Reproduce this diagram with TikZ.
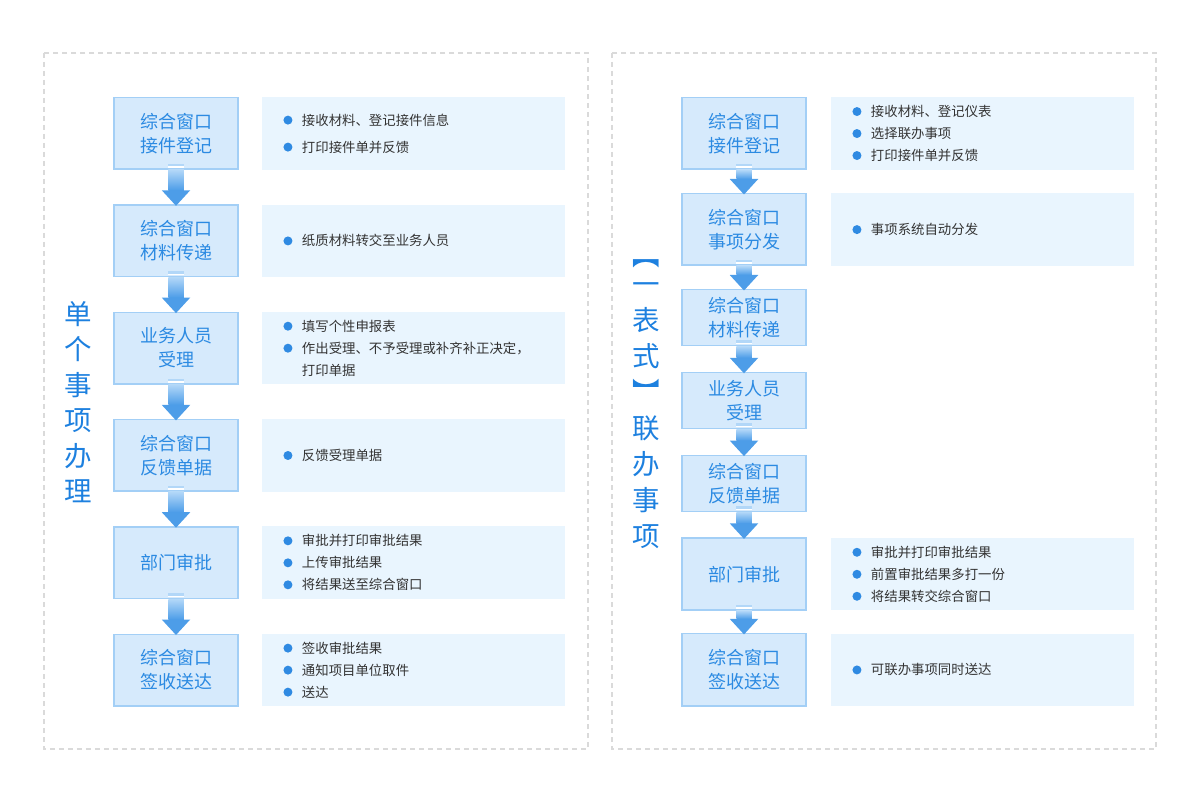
\documentclass[tikz,border=0pt]{standalone}
\usepackage{fontspec}
\setmainfont{Noto Sans CJK SC}
\usetikzlibrary{positioning,calc}
\definecolor{boxfill}{HTML}{D6EAFC}
\definecolor{boxline}{HTML}{A3CFF6}
\definecolor{boxtext}{HTML}{2B8AE2}
\definecolor{notefill}{HTML}{E9F5FE}
\definecolor{notetext}{HTML}{333333}
\definecolor{dotblue}{HTML}{2F8AE2}
\definecolor{titleblue}{HTML}{1D80DF}
\definecolor{arrowtop}{HTML}{B2D7F8}
\definecolor{arrowbot}{HTML}{4D9DE8}
\definecolor{panelline}{HTML}{DADADA}
\newcommand{\bul}{\hspace*{21.5pt}\tikz[baseline=-5pt]\fill[dotblue] (4.5pt,0pt) circle (4.5pt);\hspace{9.5pt}}
\tikzset{
  stage_n/.style = {draw=boxline, fill=boxfill, line width=1.5pt, text=boxtext,
    align=center, minimum width=124pt, minimum height=71.5pt,
    font=\fontsize{18}{24}\selectfont},
  short_n/.style = {stage_n, minimum height=56pt},
  note_n/.style = {fill=notefill, text=notetext, align=left, inner xsep=0pt,
    text width=303pt, minimum height=72.5pt, font=\fontsize{13.4}{22}\selectfont},
  title_n/.style = {text=titleblue, align=center, inner sep=0pt},
  panel/.style = {draw=panelline, line width=1.2pt, dash pattern=on 5pt off 4pt},
}
\begin{document}
\begin{tikzpicture}[x=1pt,y=-1pt]
  \useasboundingbox (0,0) rectangle (1200,802);
  \draw[panel] (44,53) rectangle (588,749);
  \draw[panel] (612,53) rectangle (1156,749);

  % single item
  \node [title_n, font=\fontsize{27.5}{35.5}\selectfont] (ltitle) at (78,402)
    {单\\个\\事\\项\\办\\理};
  \node [stage_n] (l1) at (176,133.5) {综合窗口\\接件登记};
  \node [stage_n, below=34.3pt of l1] (l2) {综合窗口\\材料传递};
  \node [stage_n, below=34.3pt of l2] (l3) {业务人员\\受理};
  \node [stage_n, below=34.3pt of l3] (l4) {综合窗口\\反馈单据};
  \node [stage_n, below=34.3pt of l4] (l5) {部门审批};
  \node [stage_n, below=34.3pt of l5] (l6) {综合窗口\\签收送达};
  \node [note_n, right=23pt of l1] (ln1)
    {\bul 接收材料、登记接件信息\\[5pt]\bul 打印接件单并反馈};
  \node [note_n, right=23pt of l2] (ln2) {\bul 纸质材料转交至业务人员};
  \node [note_n, right=23pt of l3] (ln3)
    {\bul 填写个性申报表\\\bul 作出受理、不予受理或补齐补正决定，\\\hspace*{40pt}打印单据};
  \node [note_n, right=23pt of l4] (ln4) {\bul 反馈受理单据};
  \node [note_n, right=23pt of l5] (ln5)
    {\bul 审批并打印审批结果\\\bul 上传审批结果\\\bul 将结果送至综合窗口};
  \node [note_n, right=23pt of l6] (ln6)
    {\bul 签收审批结果\\\bul 通知项目单位取件\\\bul 送达};

  % joint items
  \node [title_n, font=\fontsize{27.5}{36}\selectfont] (rtitle) at (646,404.5)
    {︻\\[-7pt]一\\表\\式\\︼\\联\\办\\事\\项};
  \node [stage_n] (r1) at (744,133.5) {综合窗口\\接件登记};
  \node [stage_n, below=23pt of r1] (r2) {综合窗口\\事项分发};
  \node [short_n, below=23pt of r2] (r3) {综合窗口\\材料传递};
  \node [short_n, below=25.3pt of r3] (r4) {业务人员\\受理};
  \node [short_n, below=25.3pt of r4] (r5) {综合窗口\\反馈单据};
  \node [stage_n, minimum height=72pt, below=25.3pt of r5] (r6) {部门审批};
  \node [stage_n, minimum height=72.5pt, below=22pt of r6] (r7) {综合窗口\\签收送达};
  \node [note_n, right=24pt of r1] (rn1)
    {\bul 接收材料、登记仪表\\\bul 选择联办事项\\\bul 打印接件单并反馈};
  \node [note_n, right=24pt of r2] (rn2) {\bul 事项系统自动分发};
  \node [note_n, right=24pt of r6] (rn6)
    {\bul 审批并打印审批结果\\\bul 前置审批结果多打一份\\\bul 将结果转交综合窗口};
  \node [note_n, right=24pt of r7] (rn7) {\bul 可联办事项同时送达};

  \foreach \a/\b in {l1/l2,l2/l3,l3/l4,l4/l5,l5/l6,
                     r1/r2,r2/r3,r3/r4,r4/r5,r5/r6,r6/r7} {
    \fill[arrowtop] ($(\a.south)+(-7.75,-6)$) rectangle ($(\a.south)+(7.75,-3.5)$);
    \fill[white] ($(\a.south)+(-7.75,-3.5)$) rectangle ($(\a.south)+(7.75,-2)$);
    \shade[top color=arrowtop, bottom color=arrowbot]
      ($(\a.south)+(-7.75,0)$) rectangle ($(\b.north)+(7.75,-14)$);
    \fill[arrowbot] ($(\b.north)+(-14.25,-14)$) -- ($(\b.north)+(14.25,-14)$)
      -- ($(\b.north)+(0,1.5)$) -- cycle;
  }
\end{tikzpicture}
\end{document}
